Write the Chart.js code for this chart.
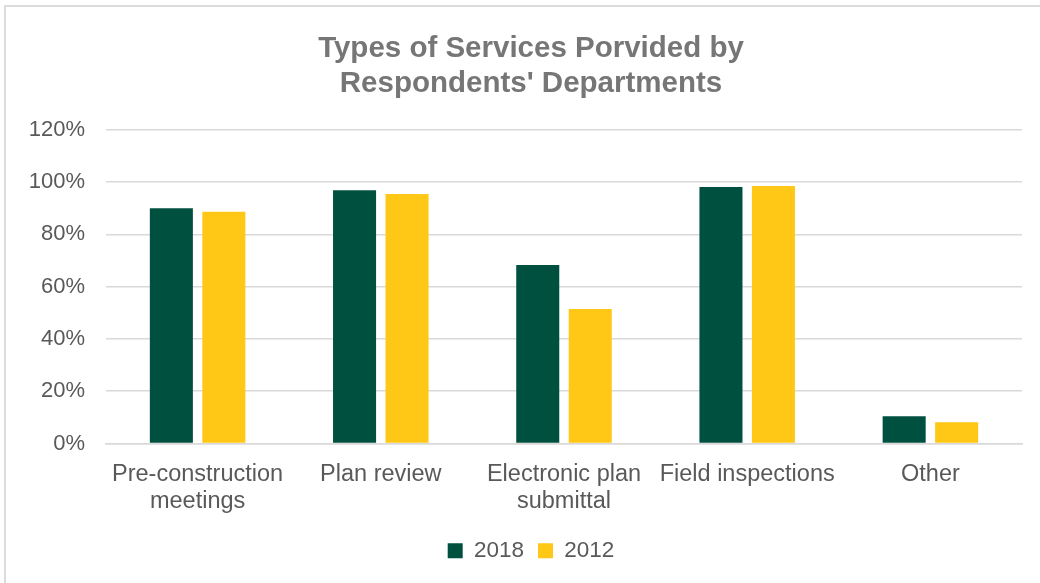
<!DOCTYPE html>
<html>
<head>
<meta charset="utf-8">
<script src="https://cdn.jsdelivr.net/npm/chart.js@4"></script>
<style>
  html, body { margin: 0; padding: 0; background: #fff; overflow: hidden; }
  #wrap { position: absolute; left: 4px; top: 5px; width: 1060px; height: 580px;
          border-top: 2px solid #dcdcdc; border-left: 2px solid #dcdcdc; box-sizing: border-box; }
  #frame { position: absolute; left: 0; top: 0; width: 1062px; height: 583px; }
</style>
</head>
<body>
<div id="wrap"></div>
<div id="frame"><canvas id="c"></canvas></div>
<script>
const labels = [['Pre-construction', 'meetings'], 'Plan review', ['Electronic plan', 'submittal'], 'Field inspections', 'Other'];
const vals2018 = [90, 96.9, 68.3, 98.1, 10.4];
const vals2012 = [88.6, 95.4, 51.4, 98.5, 8.1];
const yTicks = [0, 20, 40, 60, 80, 100, 120];

const GRAY = '#595959';
Chart.defaults.font.family = '"Liberation Sans", Arial, sans-serif';

// y labels sit in the left padding, so widen their clip box after layout
const unclipY = {
  id: 'unclipY',
  afterLayout: chart => { chart.scales.y.left = 0; },
};

new Chart(document.getElementById('c'), {
  type: 'bar',
  data: {
    labels,
    datasets: [
      { label: '2018', data: vals2018, backgroundColor: '#00503f',
        categoryPercentage: 0.573, barPercentage: 0.82 },
      { label: '2012', data: vals2012, backgroundColor: '#ffc716',
        categoryPercentage: 0.573, barPercentage: 0.82 },
    ],
  },
  options: {
    responsive: true, maintainAspectRatio: false, animation: false,
    layout: { padding: { left: 40, right: 40, top: 10, bottom: 11 } },
    plugins: {
      title: { display: true, text: ['Types of Services Porvided by', "Respondents' Departments"],
        color: '#767676', font: { size: 29.5, weight: 'bold' }, lineHeight: 1.0,
        padding: { top: 21, bottom: 28 } },
      legend: { position: 'bottom',
        labels: { color: GRAY, font: { size: 22.5 }, boxWidth: 15, boxHeight: 15, padding: 14 } },
      tooltip: { enabled: false },
    },
    scales: {
      y: { min: 0, max: 120,
        afterBuildTicks: ax => { ax.ticks = yTicks.map(v => ({ value: v })); },
        afterFit: ax => { ax.width = 66; },
        grid: { color: '#d9d9d9', lineWidth: 1.5, drawTicks: false },
        border: { display: false },
        ticks: { color: GRAY, font: { size: 22 }, padding: 21, callback: v => v + '%' } },
      x: { grid: { display: false }, border: { color: '#d9d9d9', width: 1.5 },
        ticks: { color: GRAY, font: { size: 23.5, lineHeight: 1.15 }, padding: 10, maxRotation: 0 } },
    },
  },
  plugins: [unclipY],
});
</script>
</body>
</html>
